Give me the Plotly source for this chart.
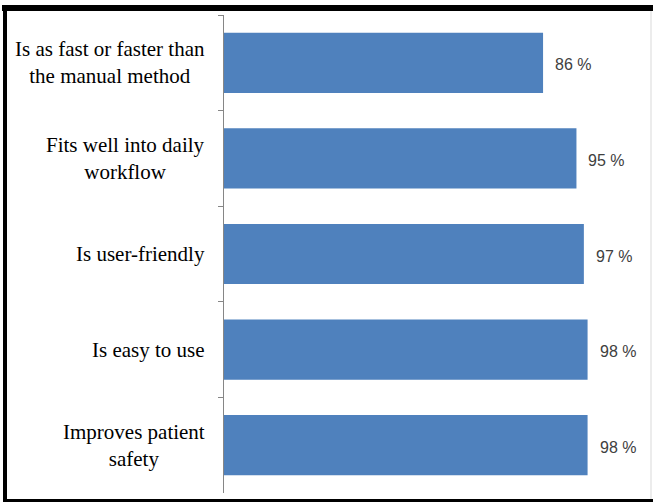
import plotly.graph_objects as go

categories = [
    "Is as fast or faster than<br>the manual method",
    "Fits well into daily<br>workflow",
    "Is user-friendly",
    "Is easy to use",
    "Improves patient<br>safety",
]
values = [86, 95, 97, 98, 98]
value_labels = ["86 %", "95 %", "97 %", "98 %", "98 %"]

W, H = 653, 502
ML, MR, MT, MB = 224, 58, 15, 9
PW, PH = W - ML - MR, H - MT - MB


def px(x):
    return (x - ML) / PW


def py(y):
    return (H - MB - y) / PH


fig = go.Figure(
    go.Bar(
        x=values,
        y=categories,
        orientation="h",
        width=0.63,
        marker=dict(color="#4F81BD", line=dict(width=0)),
        hoverinfo="skip",
    )
)

annotations = []
for cat in categories:
    annotations.append(dict(
        x=0, xref="paper", y=cat, yref="y",
        text=cat, showarrow=False, xanchor="right", yanchor="middle",
        xshift=-17, align="center",
        font=dict(family="Liberation Serif, Times New Roman, serif", size=21, color="#000000"),
    ))
for cat, v, lab in zip(categories, values, value_labels):
    annotations.append(dict(
        x=v, xref="x", y=cat, yref="y",
        text=lab, showarrow=False, xanchor="left", yanchor="middle",
        xshift=10, yshift=-2,
        font=dict(family="Liberation Sans, Arial, sans-serif", size=16, color="#404040"),
    ))

shapes = [
    # top border
    dict(type="line", xref="paper", yref="paper", x0=px(2), x1=px(W + 2), y0=py(8), y1=py(8),
         line=dict(color="#000000", width=6)),
    # left border
    dict(type="line", xref="paper", yref="paper", x0=px(5), x1=px(5), y0=py(5), y1=py(H + 2),
         line=dict(color="#000000", width=4)),
    # bottom border
    dict(type="line", xref="paper", yref="paper", x0=px(3), x1=px(W + 2), y0=py(501), y1=py(501),
         line=dict(color="#000000", width=4)),
    # right faint border
    dict(type="line", xref="paper", yref="paper", x0=px(651), x1=px(651), y0=py(11), y1=py(499),
         line=dict(color="#d9d9d9", width=1)),
]

fig.update_layout(
    width=W, height=H,
    margin=dict(l=ML, r=MR, t=MT, b=MB),
    paper_bgcolor="white", plot_bgcolor="white",
    showlegend=False,
    annotations=annotations,
    shapes=shapes,
    xaxis=dict(range=[0, 100], showgrid=False, zeroline=False, showticklabels=False,
               showline=False, ticks=""),
    yaxis=dict(type="category", range=[4.5, -0.5], showgrid=False, zeroline=False,
               showticklabels=False, showline=True, linecolor="#868686", linewidth=1,
               ticks="outside", tickson="boundaries", ticklen=5, tickcolor="#868686"),
)

fig.write_html("out.html")
